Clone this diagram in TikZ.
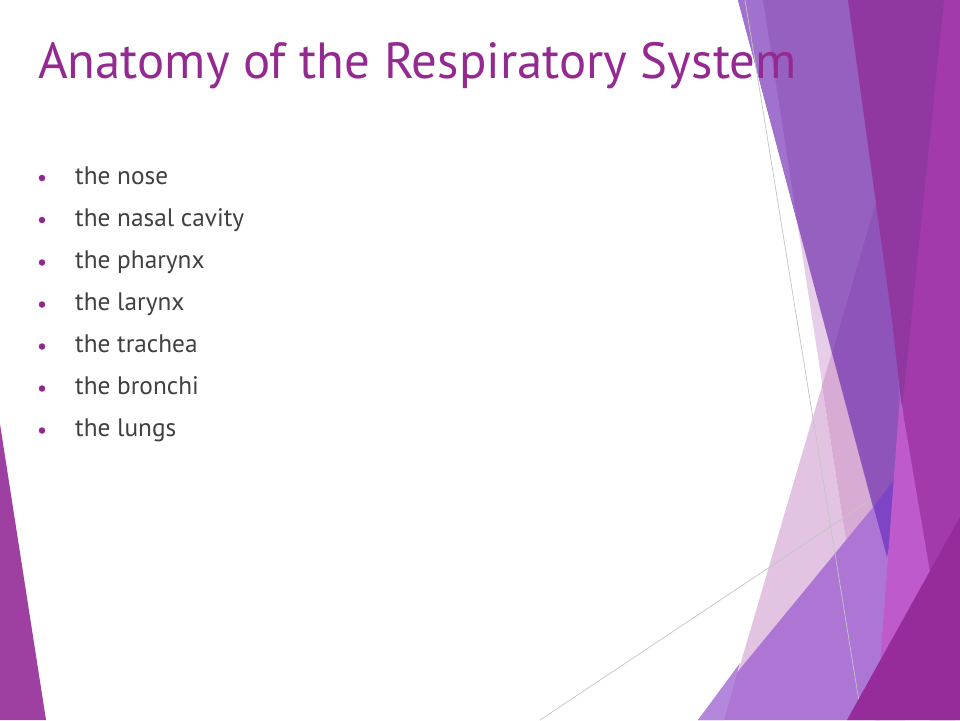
\documentclass[tikz,border=0pt]{standalone}
\usepackage{fontspec}
\setmainfont{PT Sans}
\definecolor{titlec}{RGB}{148,42,145}
\definecolor{bodyc}{RGB}{64,64,64}
\definecolor{dotc}{RGB}{142,40,140}
\definecolor{leftc}{RGB}{158,64,162}
\definecolor{lineg}{RGB}{196,196,196}
\definecolor{lilac}{RGB}{226,196,226}
\definecolor{lilacone}{RGB}{231,206,232}
\definecolor{lilactwo}{RGB}{216,171,213}
\definecolor{violet}{RGB}{149,96,192}
\definecolor{violetlt}{RGB}{161,114,205}
\definecolor{violetdk}{RGB}{142,84,186}
\definecolor{lavender}{RGB}{173,118,213}
\definecolor{lavenderlt}{RGB}{180,134,220}
\definecolor{bluepurple}{RGB}{125,69,198}
\definecolor{darkmag}{RGB}{145,56,160}
\definecolor{brightmag}{RGB}{162,58,169}
\definecolor{orchid}{RGB}{190,90,204}
\definecolor{deepmag}{RGB}{150,44,153}
\tikzset{
  thinline/.style={draw=lineg, line width=0.7pt},
  titletext/.style={anchor=base west, inner sep=0pt, text=titlec, font=\fontsize{50.8}{54}\selectfont},
  itemtext/.style={anchor=base west, inner sep=0pt, text=bodyc, font=\fontsize{25.3}{29}\selectfont},
  bulletdot/.style={circle, fill=dotc, draw=none, inner sep=0pt, minimum size=6.5pt}
}
\begin{document}
\begin{tikzpicture}[x=1pt,y=-1pt]
\useasboundingbox (0,0) rectangle (960,720);
\fill[white] (0,0) rectangle (960,720);

% left decoration
\fill[leftc] (0,424) -- (46,720) -- (0,720) -- cycle;

% lilac layers
\fill[lilacone] (763,0) -- (880,0) -- (905,720) -- (874,720) -- cycle;
\fill[lilac] (724,720) -- (874,720) -- (822,386) -- cycle;
\fill[lilactwo] (822,386) -- (874,720) -- (905,720) -- (878,195) -- cycle;

% diagonal thin line
\coordinate (lb1) at (540,720);
\coordinate (lb2) at (890,487);
\draw[thinline] (lb1) -- (lb2);

% violet band
\fill[violet] (738,0) -- (900,0) -- (910,420) -- (891,575) -- cycle;
\fill[violetlt] (738,0) -- (763,0) -- (797,220) -- cycle;
\fill[violetdk] (878,195) -- (832.5,352.6) -- (873.5,506.6) -- (903,468) -- (895,330) -- (885,240) -- cycle;

% lavender
\fill[lavender] (698,720) -- (902,472) -- (880,720) -- cycle;
\fill[lavenderlt] (698,720) -- (724,720) -- (740,663) -- cycle;
\fill[bluepurple] (873.5,506.6) -- (903,468) -- (895,520) -- (887,557) -- cycle;

% near vertical thin line
\coordinate (la1) at (745,0);
\coordinate (la2) at (862,720);
\draw[thinline] (la1) -- (la2);

% magenta bands
\fill[brightmag] (925,0) -- (960,0) -- (960,720) -- (930,720) -- (903,412) -- (905,300) -- cycle;
\fill[darkmag] (848,0) -- (944,0) -- (902,410) -- (892,320) -- (870,160) -- cycle;
\fill[orchid] (900,395) -- (955,720) -- (876,720) -- cycle;
\fill[deepmag] (847,720) -- (960,517) -- (960,720) -- cycle;

% title
\node[titletext] (title) at (38,78) {Anatomy of the Respiratory System};

% bullets
\node[bulletdot] (d1) at (42,178) {};
\node[itemtext] (t1) at (75,184) {the nose};
\node[bulletdot] (d2) at (42,220) {};
\node[itemtext] (t2) at (75,226) {the nasal cavity};
\node[bulletdot] (d3) at (42,262.5) {};
\node[itemtext] (t3) at (75,268.5) {the pharynx};
\node[bulletdot] (d4) at (42,304.5) {};
\node[itemtext] (t4) at (75,310.5) {the larynx};
\node[bulletdot] (d5) at (42,346.5) {};
\node[itemtext] (t5) at (75,352.5) {the trachea};
\node[bulletdot] (d6) at (42,388.5) {};
\node[itemtext] (t6) at (75,394.5) {the bronchi};
\node[bulletdot] (d7) at (42,430.5) {};
\node[itemtext] (t7) at (75,436.5) {the lungs};
\end{tikzpicture}
\end{document}
